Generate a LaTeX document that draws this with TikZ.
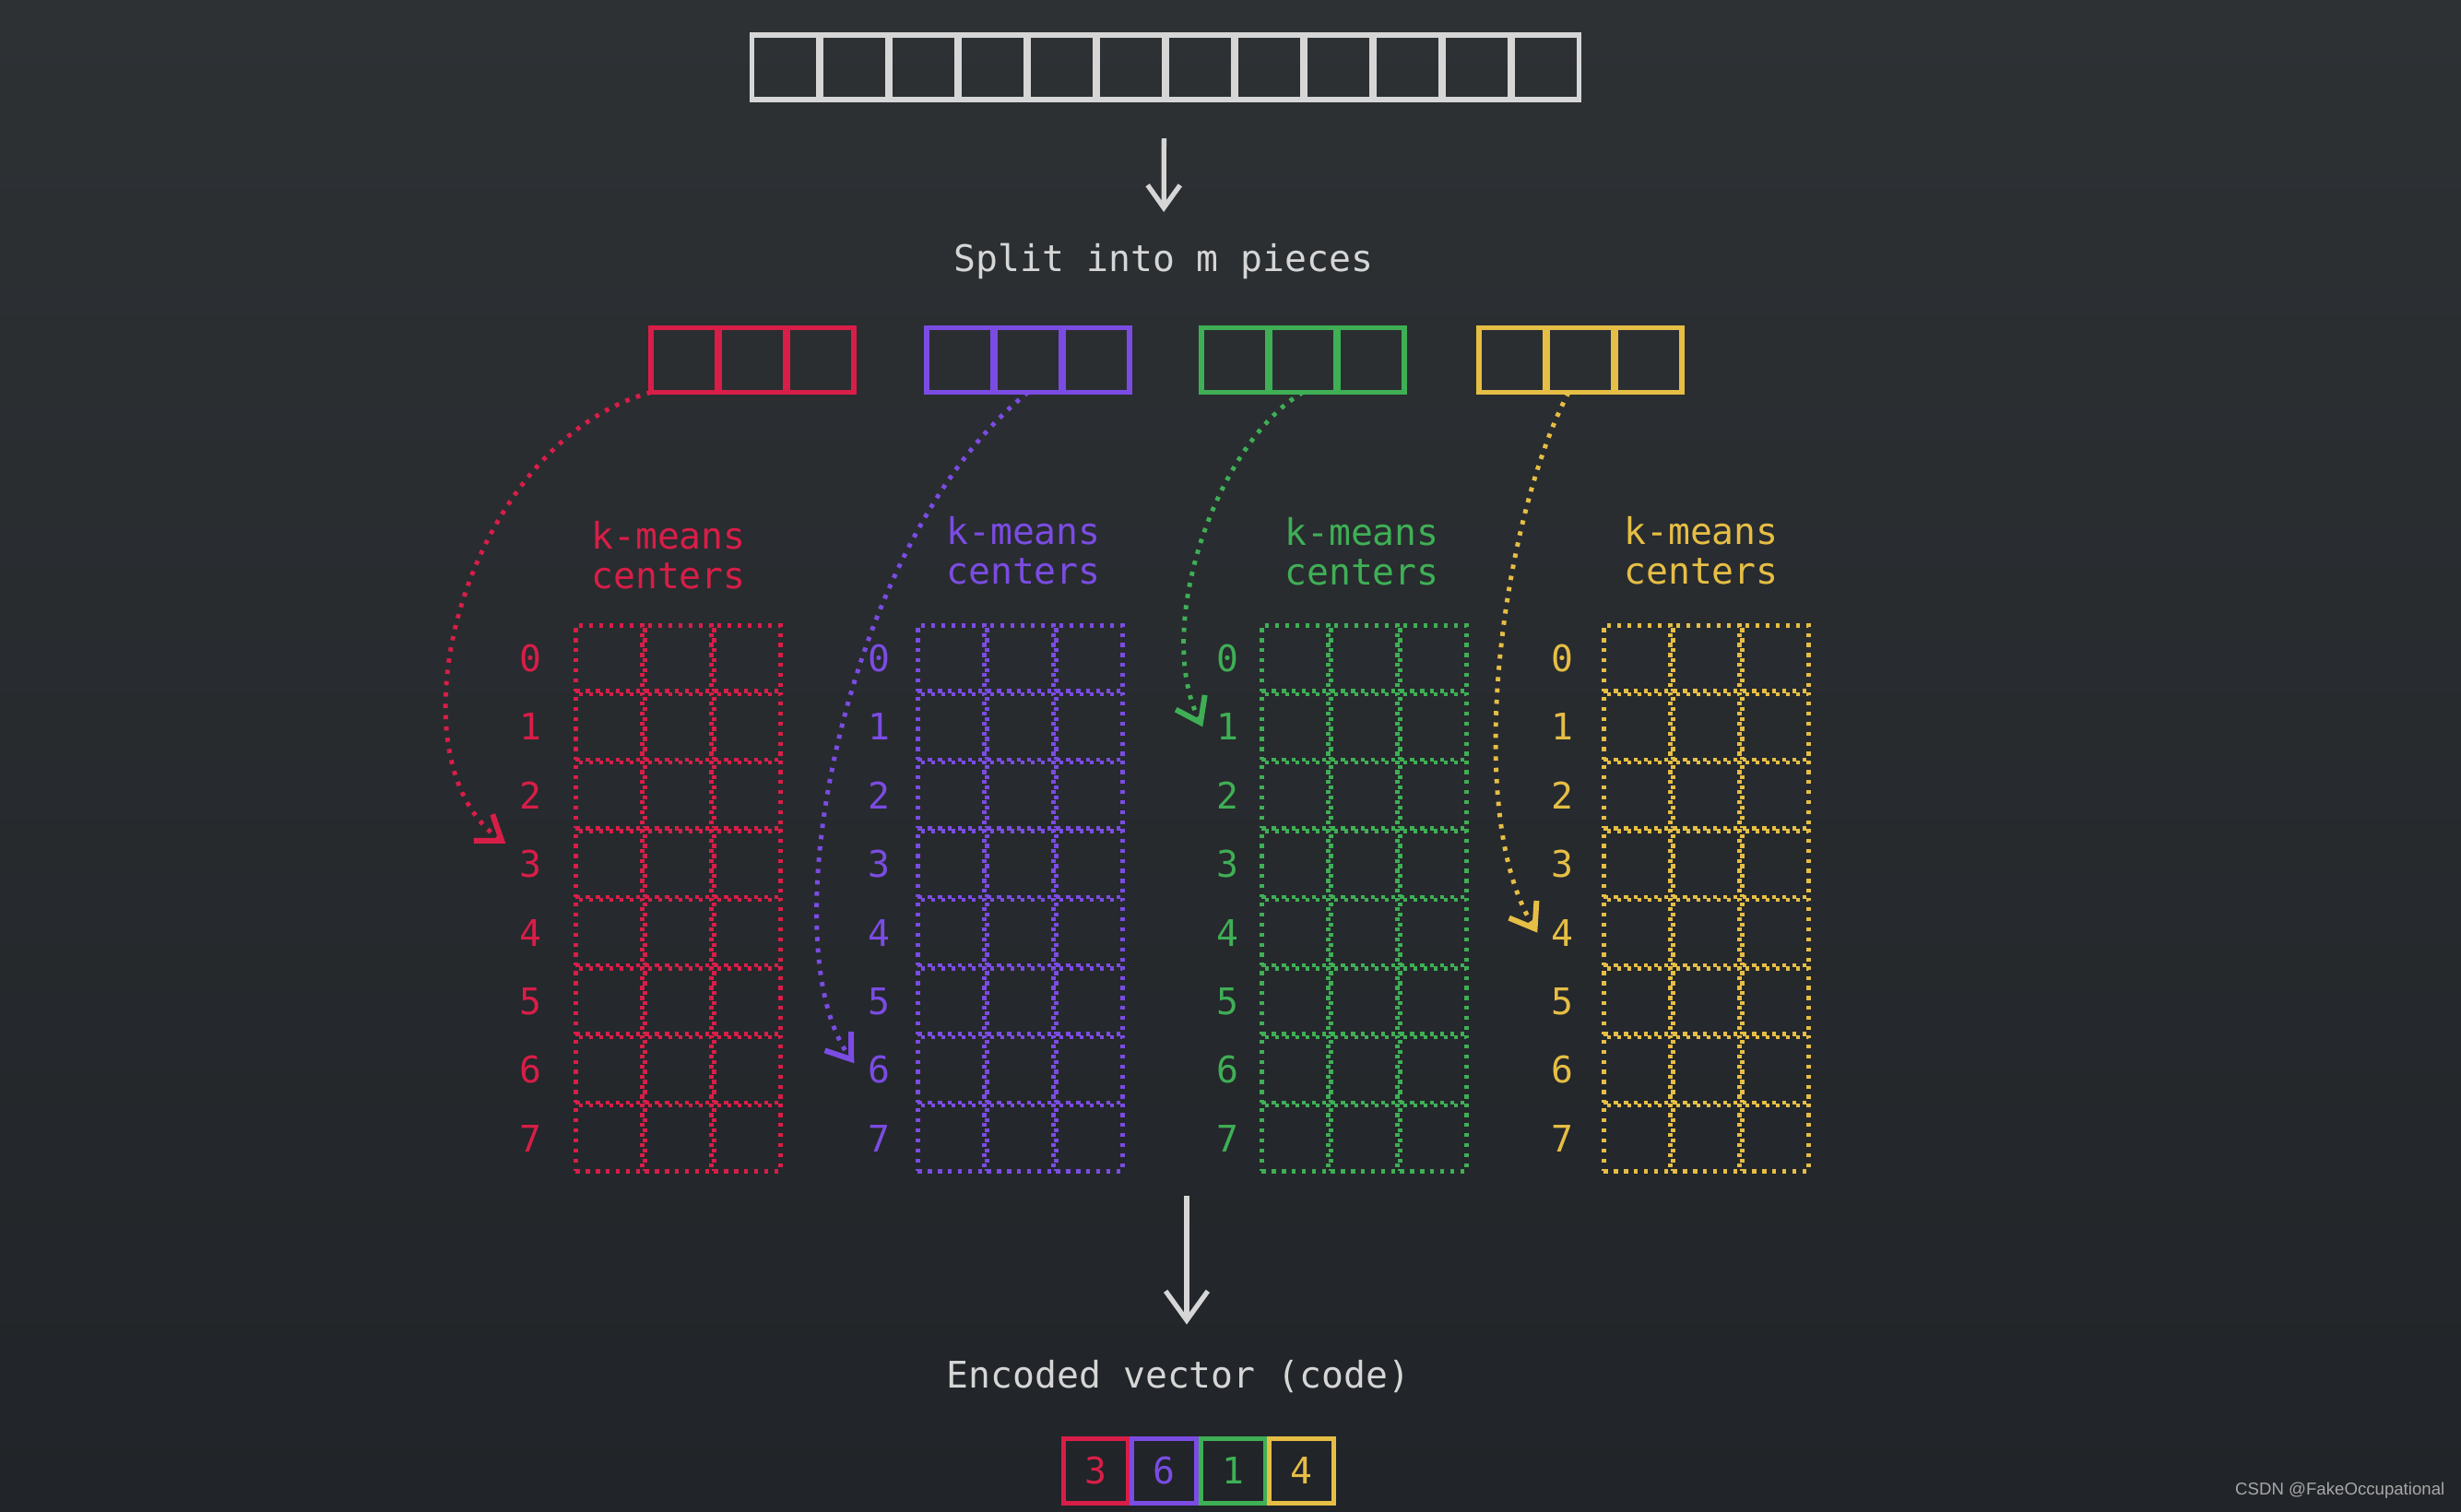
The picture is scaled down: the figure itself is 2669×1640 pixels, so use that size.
\documentclass[tikz,border=0pt]{standalone}
\usepackage{fontspec}
\setmonofont{DejaVu Sans Mono}
\newfontfamily\wmfont{Liberation Sans}
\usetikzlibrary{arrows.meta, positioning, calc}
\definecolor{bgtop}{HTML}{2D3134}
\definecolor{bgbot}{HTML}{212428}
\definecolor{inklight}{HTML}{D6D6D6}
\definecolor{wmgrey}{HTML}{A8A8A8}
\definecolor{pqred}{HTML}{D81E48}
\definecolor{pqpurple}{HTML}{7B4CE3}
\definecolor{pqgreen}{HTML}{3FAF55}
\definecolor{pqyellow}{HTML}{E6BE45}
\tikzset{
  lbl/.style={font=\ttfamily\fontsize{11.3}{12.2}\selectfont, inner sep=0pt},
  boxcell/.style={draw, line width=1.5pt, minimum width=0.72cm,
    minimum height=0.70cm, inner sep=0pt, outer sep=0pt},
  gridcell/.style={draw, line width=1.25pt, dash pattern=on 1.2pt off 1.9pt,
    minimum width=0.72cm, minimum height=0.71cm, inner sep=0pt},
  bigarrow/.style={draw=inklight, line width=1.5pt,
    -{Straight Barb[length=7pt, width=10pt]}},
  dotarrow/.style={line width=1.4pt, dash pattern=on 1.3pt off 2.2pt,
    -{Straight Barb[length=7pt, width=10pt, line width=1.7pt]}},
}

\begin{document}
\begin{tikzpicture}[x=0.01cm, y=-0.01cm]
  \fill[top color=bgtop, bottom color=bgbot] (0,0) rectangle (2669,1640);
  \useasboundingbox (0,0) rectangle (2669,1640);

  % input vector
  \foreach \i in {1,...,12}
    \node[boxcell, draw=inklight] (v\i) at (776.5+75*\i, 73) {};
  \node[lbl, text=inklight] (split) at (1262,283) {Split into m pieces};
  \draw[bigarrow, shorten <=0.42cm, shorten >=0.33cm] (v6.south east) -- (split.north);

  % sub-vectors
  \foreach \col/\px [count=\k] in {pqred/705, pqpurple/1004, pqgreen/1302, pqyellow/1603}{%
    \foreach \j in {1,2,3}
      \node[boxcell, draw=\col] (piece\k-\j) at (\px-37+74*\j, 390.5) {};}

  % codebooks
  \foreach \col/\gx/\dx/\tx/\ty [count=\k] in {pqred/623/575/725/602, pqpurple/994/953/1110/597,
                                               pqgreen/1367/1331/1477/598, pqyellow/1738/1694/1845/597}{%
    \node[lbl, text=\col, align=center] (title\k) at (\tx,\ty) {k-means\\centers};
    \foreach \r in {0,...,7}{%
      \node[lbl, text=\col, inner sep=4pt] (digit\k-\r) at (\dx, 714+74.4*\r) {\r};
      \foreach \c in {0,1,2}
        \node[gridcell, draw=\col] (grid\k-\r-\c) at (\gx+37.5+75*\c, 714+74.4*\r) {};}}

  % nearest centers
  \draw[dotarrow, pqred] (piece1-1.south west) .. controls (505,480) and (415,820) .. (digit1-3.140);
  \draw[dotarrow, pqpurple] (piece2-2.south) .. controls (920,580) and (830,1020) .. (digit2-6.165);
  \draw[dotarrow, pqgreen] (piece3-2.south) .. controls (1320,480) and (1250,680) .. (digit3-1.west);
  \draw[dotarrow, pqyellow] (piece4-2.-110) .. controls (1630,560) and (1585,880) .. (digit4-4.west);

  % code
  \coordinate (gridbase) at (1287,1297);
  \node[lbl, text=inklight] (encoded) at (1278,1493) {Encoded vector (code)};
  \draw[bigarrow, -{Straight Barb[length=9pt, width=13pt]}, shorten >=0.38cm]
    (gridbase) -- (gridbase |- encoded.north);
  \foreach \col/\d [count=\k] in {pqred/3, pqpurple/6, pqgreen/1, pqyellow/4}
    \node[boxcell, lbl, draw=\col, text=\col, minimum width=0.7cm] (code\k)
      at (1113.75+74.5*\k, 1595.5) {\d};

  \node[font=\wmfont\fontsize{5.3}{6}\selectfont, text=wmgrey, anchor=east, inner sep=0pt]
    (credit) at (2652,1617) {CSDN @FakeOccupational};
\end{tikzpicture}
\end{document}
